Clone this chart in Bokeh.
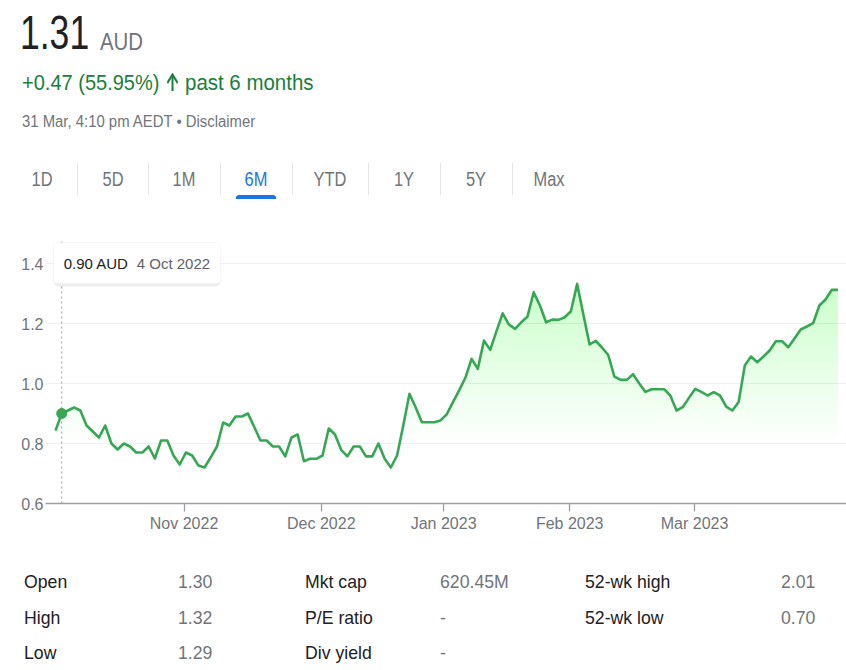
import numpy as np
from bokeh.plotting import figure
from bokeh.models import (Range1d, FixedTicker, Div, BoxAnnotation, Label,
                          NumeralTickFormatter, CustomJSTickFormatter)
from bokeh.layouts import column
from bokeh.embed import file_html
from bokeh.resources import INLINE

# ---------------- data ----------------
prices = [
    0.843, 0.90, 0.91, 0.92, 0.91, 0.86, 0.84, 0.82, 0.86, 0.80,
    0.78, 0.80, 0.79, 0.77, 0.77, 0.79, 0.75, 0.81, 0.81, 0.76,
    0.73, 0.77, 0.76, 0.727, 0.72, 0.754, 0.79, 0.87, 0.86, 0.89,
    0.89, 0.90, 0.855, 0.81, 0.81, 0.79, 0.79, 0.757, 0.82, 0.83,
    0.741, 0.749, 0.749, 0.76, 0.85, 0.83, 0.779, 0.757, 0.79, 0.79,
    0.757, 0.757, 0.80, 0.749, 0.72, 0.76, 0.86, 0.966, 0.92, 0.871,
    0.871, 0.871, 0.877, 0.897, 0.938, 0.977, 1.019, 1.082, 1.049, 1.143,
    1.112, 1.174, 1.234, 1.197, 1.182, 1.204, 1.223, 1.304, 1.26, 1.204,
    1.213, 1.212, 1.221, 1.241, 1.332, 1.23, 1.13, 1.142, 1.12, 1.095,
    1.023, 1.012, 1.012, 1.031, 1.0, 0.972, 0.981, 0.981, 0.981, 0.96,
    0.91, 0.921, 0.952, 0.982, 0.972, 0.96, 0.971, 0.96, 0.923, 0.91,
    0.938, 1.06, 1.09, 1.071, 1.09, 1.11, 1.141, 1.141, 1.121, 1.15,
    1.18, 1.19, 1.201, 1.26, 1.28, 1.312, 1.312,
]
month_labels = ["Nov 2022", "Dec 2022", "Jan 2023", "Feb 2023", "Mar 2023"]
month_tick_pos = [20.7, 42.8, 62.5, 82.8, 102.9]   # trading-day index of month boundary
y_ticks = [0.6, 0.8, 1.0, 1.2, 1.4]
hover_index = 1
hover_text_price = "0.90 AUD"
hover_text_date = "4 Oct 2022"

header_price = "1.31"
header_currency = "AUD"
header_change = "+0.47 (55.95%)"
header_period = "past 6 months"
header_time = "31 Mar, 4:10 pm AEDT \u2022 Disclaimer"
tabs = ["1D", "5D", "1M", "6M", "YTD", "1Y", "5Y", "Max"]
active_tab = "6M"

table_rows = [
    ["Open", "1.30", "Mkt cap", "620.45M", "52-wk high", "2.01"],
    ["High", "1.32", "P/E ratio", "-", "52-wk low", "0.70"],
    ["Low", "1.29", "Div yield", "-", "", ""],
]

# ---------------- style ----------------
FONT = "Liberation Sans, Arial, sans-serif"
GREEN = "#34a853"
FILL_GREEN = "#44a463"
TEXT_GREEN = "#188038"
GRAY = "#70757a"
DARK = "#202124"
BLUE = "#1a73e8"

W = 846
HEADER_H = 215
CHART_H = 330
TABLE_H = 125

def txt(t, left, cy, size, color, scale=1.0, weight="normal", oy=0, center=False):
    top = cy - 0.49 * size - oy
    if center:
        return (f'<div style="position:absolute;left:{left-60}px;top:{top:.1f}px;width:120px;'
                f'text-align:center;font-size:{size}px;line-height:{size}px;color:{color};'
                f'font-weight:{weight};white-space:nowrap;transform:scaleX({scale});'
                f'transform-origin:50% 0;font-family:{FONT}">{t}</div>')
    return (f'<div style="position:absolute;left:{left}px;top:{top:.1f}px;font-size:{size}px;'
            f'line-height:{size}px;color:{color};font-weight:{weight};white-space:nowrap;'
            f'transform:scaleX({scale});transform-origin:0 0;font-family:{FONT}">{t}</div>')

def rect(left, top, w, h, color, oy=0, radius="0"):
    return (f'<div style="position:absolute;left:{left}px;top:{top-oy}px;width:{w}px;height:{h}px;'
            f'background:{color};border-radius:{radius}"></div>')

# ---------------- header ----------------
parts = []
parts.append(txt(header_price, 20, 32.5, 48, DARK, 0.74))
parts.append(txt(header_currency, 100, 41.5, 24, GRAY, 0.85))
parts.append(txt(header_change, 22, 82.5, 22, TEXT_GREEN, 0.91))
parts.append('<svg style="position:absolute;left:167px;top:73px" width="11" height="18" '
             'viewBox="4 4 16 16" preserveAspectRatio="none">'
             f'<path d="M4 12l1.41 1.41L11 7.83V20h2V7.83l5.58 5.59L20 12l-8-8-8 8z" fill="{TEXT_GREEN}" '
             f'stroke="{TEXT_GREEN}" stroke-width="0.6"/></svg>')
parts.append(txt(header_period, 185, 82.5, 22, TEXT_GREEN, 0.93))
parts.append(txt(header_time, 22, 121.5, 16, GRAY, 0.93))
tab_centers = [41.5, 113, 184, 255.5, 330, 403.5, 475.5, 549]
for t, c in zip(tabs, tab_centers):
    parts.append(txt(t, c, 179, 20, BLUE if t == active_tab else GRAY, 0.82, center=True))
for sx in [77, 148, 220, 292, 368, 440, 512]:
    parts.append(rect(sx, 163, 1, 32, "#e3e5e8"))
parts.append(rect(236, 195, 40, 4, BLUE, radius="3px 3px 0 0"))
header = Div(text=f'<div style="position:relative;width:{W}px;height:{HEADER_H}px">' + "".join(parts) + "</div>",
             width=W, height=HEADER_H, margin=0)

# ---------------- chart ----------------
n = len(prices)
idx = np.arange(n)
ys = np.array(prices)

frame_left_px = 45
frame_w = W - frame_left_px
x0, x1 = -1.61, 127.37
y0, y1 = 0.6, 1.4 + 23 / 300
frame_h = 263
px_x = frame_w / (x1 - x0)
px_y = frame_h / (y1 - y0)

p = figure(width=W, height=CHART_H, x_range=Range1d(x0, x1), y_range=Range1d(y0, y1),
           output_backend="svg", toolbar_location=None, margin=0,
           min_border_left=frame_left_px, min_border_right=0, min_border_top=25, min_border_bottom=42)
p.outline_line_color = None
p.background_fill_color = "white"
p.border_fill_color = "white"

# gradient fill: stacked translucent layers
levels = np.arange(0.6, 1.34, 0.01)
def target(v):
    return 0.22 * np.clip((v - 0.6) / 0.8, 0, 1) ** 1.6
prev = 0.0
for lo in levels:
    t = target(lo + 0.01)
    a = 1 - (1 - t) / (1 - prev)
    prev = t
    if a <= 0:
        continue
    p.varea(x=idx, y1=np.full(n, lo), y2=np.maximum(ys, lo), fill_color=FILL_GREEN, fill_alpha=float(a))

# hover guide
p.segment(x0=[hover_index], y0=[y0], x1=[hover_index], y1=[y1], line_color="#9aa0a6",
          line_width=1, line_dash="2 3")

p.line(idx, ys, line_color=GREEN, line_width=2.6, line_join="round")
p.scatter([hover_index], [prices[hover_index]], size=10, color=GREEN)

# tooltip box
bl = hover_index - 8.2 / px_x
br = hover_index + 158.8 / px_x
bt = 1.4 + 21 / px_y
bb = 1.4 - 20 / px_y
p.add_layout(BoxAnnotation(left=bl, right=br, top=bt, bottom=bb - 3 / px_y,
                           fill_color="black", fill_alpha=0.07, line_color=None, border_radius=5))
p.add_layout(BoxAnnotation(left=bl, right=br, top=bt, bottom=bb,
                           fill_color="white", fill_alpha=1, line_color="#ececec", line_width=1,
                           border_radius=4))
p.add_layout(Label(x=hover_index, y=1.4, x_offset=2, text=hover_text_price, text_font=FONT,
                   text_font_size="15px", text_color=DARK, text_baseline="middle"))
p.add_layout(Label(x=hover_index, y=1.4, x_offset=75, text=hover_text_date, text_font=FONT,
                   text_font_size="15px", text_color="#5f6368", text_baseline="middle"))

# axes
p.xgrid.visible = False
p.ygrid.ticker = FixedTicker(ticks=y_ticks)
p.ygrid.grid_line_color = "#eeeff0"
p.ygrid.grid_line_width = 1

p.yaxis.ticker = FixedTicker(ticks=y_ticks)
p.yaxis.formatter = NumeralTickFormatter(format="0.0")
p.yaxis.axis_line_color = None
p.yaxis.major_tick_line_color = None
p.yaxis.major_tick_out = 0
p.yaxis.major_tick_in = 0
p.yaxis.minor_tick_line_color = None
p.yaxis.major_label_standoff = 2
p.yaxis.major_label_text_font = FONT
p.yaxis.major_label_text_font_size = "16px"
p.yaxis.major_label_text_color = GRAY

p.xaxis.ticker = FixedTicker(ticks=month_tick_pos)
p.xaxis.formatter = CustomJSTickFormatter(args=dict(pos=month_tick_pos, labels=month_labels), code="""
    let best = -1, d = 1e9;
    for (let i = 0; i < pos.length; i++) { const e = Math.abs(pos[i] - tick); if (e < d) { d = e; best = i; } }
    return d < 0.01 ? labels[best] : '';
""")
p.xaxis.axis_line_color = "#9aa0a6"
p.xaxis.axis_line_width = 1.3
p.xaxis.major_tick_line_color = "#9aa0a6"
p.xaxis.major_tick_line_width = 1.3
p.xaxis.major_tick_in = 0
p.xaxis.major_tick_out = 8
p.xaxis.minor_tick_line_color = None
p.xaxis.major_label_standoff = 3
p.xaxis.major_label_text_font = FONT
p.xaxis.major_label_text_font_size = "16px"
p.xaxis.major_label_text_color = GRAY

# ---------------- table ----------------
OY = HEADER_H + CHART_H
col_x = [24, 178, 305, 440, 585, 781]
row_y = [581, 617, 652]
tparts = []
for r, cy in zip(table_rows, row_y):
    for j, (cell, cx) in enumerate(zip(r, col_x)):
        if cell:
            tparts.append(txt(cell, cx, cy, 19, DARK if j % 2 == 0 else GRAY, 0.93, oy=OY))
table = Div(text=f'<div style="position:relative;width:{W}px;height:{TABLE_H}px">' + "".join(tparts) + "</div>",
            width=W, height=TABLE_H, margin=0)

layout = column(header, p, table, spacing=0)
open("out.html", "w").write(file_html(layout, INLINE))
